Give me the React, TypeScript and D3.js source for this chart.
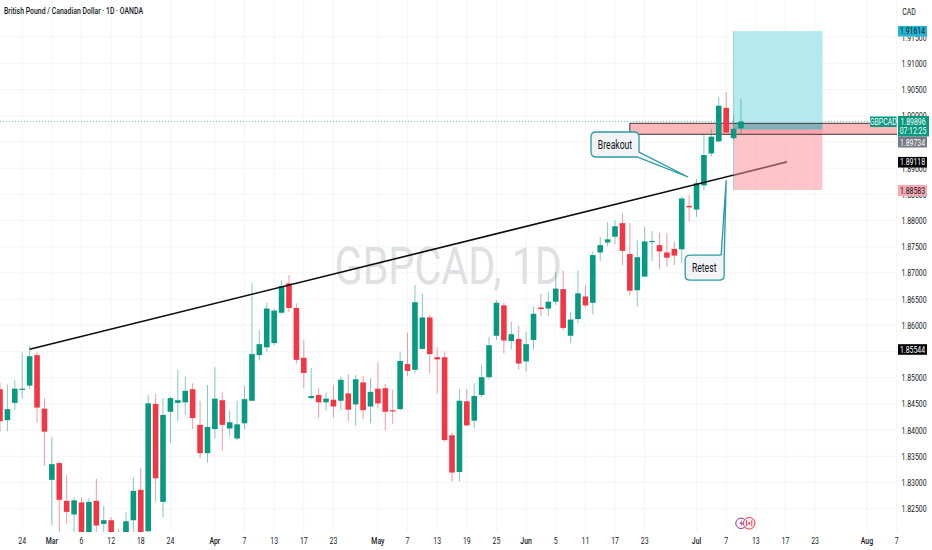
import React from "react";
import * as d3 from "d3";

const opens = [1.8478,1.8419,1.8452,1.8477,1.8485,1.8543,1.8441,1.8305,1.8337,1.8265,1.8239,1.8262,1.8178,1.8265,1.8221,1.8228,1.8197,1.8184,1.8228,1.8286,1.8207,1.8450,1.8263,1.8435,1.8452,1.8453,1.8478,1.8410,1.8356,1.8402,1.8457,1.8403,1.8384,1.8413,1.8456,1.8543,1.8558,1.8566,1.8624,1.8680,1.8633,1.8538,1.8461,1.8467,1.8453,1.8458,1.8456,1.8470,1.8449,1.8491,1.8445,1.8479,1.8480,1.8438,1.8440,1.8526,1.8515,1.8555,1.8615,1.8539,1.8539,1.8390,1.8320,1.8455,1.8418,1.8467,1.8501,1.8580,1.8638,1.8570,1.8574,1.8531,1.8572,1.8634,1.8632,1.8645,1.8669,1.8580,1.8612,1.8655,1.8643,1.8739,1.8758,1.8769,1.8795,1.8736,1.8667,1.8693,1.8760,1.8753,1.8739,1.8746,1.8745,1.8828,1.8821,1.8867,1.8928,1.8951,1.9015,1.8957,1.8976];
const highs = [1.8490,1.8487,1.8496,1.8548,1.8560,1.8548,1.8461,1.8386,1.8340,1.8314,1.8272,1.8271,1.8270,1.8307,1.8255,1.8234,1.8211,1.8243,1.8310,1.8327,1.8467,1.8469,1.8461,1.8464,1.8515,1.8502,1.8489,1.8456,1.8486,1.8520,1.8472,1.8438,1.8456,1.8484,1.8680,1.8591,1.8643,1.8632,1.8686,1.8696,1.8642,1.8571,1.8519,1.8480,1.8472,1.8486,1.8502,1.8507,1.8505,1.8503,1.8499,1.8529,1.8488,1.8477,1.8550,1.8586,1.8677,1.8660,1.8620,1.8558,1.8550,1.8395,1.8478,1.8478,1.8489,1.8524,1.8578,1.8648,1.8643,1.8607,1.8599,1.8587,1.8636,1.8660,1.8663,1.8702,1.8704,1.8625,1.8704,1.8677,1.8741,1.8769,1.8797,1.8801,1.8814,1.8795,1.8763,1.8788,1.8780,1.8777,1.8776,1.8760,1.8846,1.8849,1.8879,1.8963,1.8974,1.9036,1.9045,1.9001,1.9032];
const lows = [1.8397,1.8398,1.8438,1.8461,1.8478,1.8414,1.8332,1.8219,1.8184,1.8221,1.8184,1.8168,1.8168,1.8184,1.8190,1.8178,1.8178,1.8178,1.8190,1.8171,1.8193,1.8263,1.8233,1.8375,1.8416,1.8429,1.8402,1.8346,1.8338,1.8384,1.8361,1.8388,1.8381,1.8401,1.8456,1.8533,1.8550,1.8562,1.8621,1.8626,1.8527,1.8480,1.8459,1.8423,1.8437,1.8424,1.8438,1.8416,1.8409,1.8421,1.8413,1.8442,1.8400,1.8412,1.8438,1.8503,1.8508,1.8554,1.8508,1.8470,1.8378,1.8302,1.8302,1.8408,1.8403,1.8463,1.8497,1.8572,1.8547,1.8554,1.8515,1.8512,1.8553,1.8617,1.8617,1.8639,1.8590,1.8566,1.8604,1.8634,1.8621,1.8723,1.8751,1.8755,1.8715,1.8657,1.8636,1.8692,1.8723,1.8707,1.8711,1.8715,1.8718,1.8798,1.8807,1.8857,1.8922,1.8949,1.8963,1.8954,1.8966];
const closes = [1.8417,1.8440,1.8479,1.8479,1.8541,1.8443,1.8397,1.8335,1.8267,1.8244,1.8266,1.8178,1.8263,1.8218,1.8228,1.8184,1.8184,1.8226,1.8284,1.8178,1.8451,1.8308,1.8429,1.8461,1.8457,1.8475,1.8423,1.8356,1.8406,1.8460,1.8410,1.8415,1.8411,1.8459,1.8545,1.8564,1.8632,1.8628,1.8675,1.8633,1.8534,1.8509,1.8465,1.8453,1.8460,1.8445,1.8496,1.8439,1.8497,1.8438,1.8473,1.8451,1.8435,1.8437,1.8532,1.8513,1.8644,1.8615,1.8545,1.8535,1.8381,1.8319,1.8456,1.8409,1.8465,1.8501,1.8562,1.8643,1.8571,1.8583,1.8527,1.8564,1.8622,1.8631,1.8645,1.8670,1.8595,1.8611,1.8661,1.8638,1.8734,1.8753,1.8764,1.8789,1.8742,1.8666,1.8730,1.8760,1.8761,1.8741,1.8729,1.8733,1.8842,1.8825,1.8871,1.8925,1.8960,1.9019,1.8968,1.8975,1.8989];

const priceTicks = [1.825,1.83,1.835,1.84,1.845,1.85,1.855,1.86,1.865,1.87,1.875,1.88,1.885,1.89,1.895,1.9,1.905,1.91,1.915];
const hiddenPriceLabels = [1.855, 1.895];
const timeIdx = [3,7,11,15,19,23,29,33,37,41,45,51,55,59,63,67,71,75,79,83,87,94,98,102,106,110,117,121];
const timeLbl = ["24","Mar","6","12","18","24","Apr","7","13","17","23","May","7","13","19","25","Jun","5","11","17","23","Jul","7","13","17","23","Aug","7"];

const trendIdx = [4, 106.2];
const trendPrice = [1.85544, 1.89118];
const zoneStartIdx = 85;
const zonePrices = [1.89855, 1.89645];
const boxIdx = [99, 111];
const boxPrices = [1.91614, 1.89734, 1.88583];
const breakoutTip = [92.85, 1.8883];
const retestTip = [98, 1.8877];

const GREEN = "#089981";
const RED = "#f23645";
const FONT = "Roboto, 'Noto Sans', sans-serif";
const SQ = 0.72;

const T = ({ x, y, s = 9.6, fill = "#131722", anchor = "middle", weight = 400, children }: any) => (
  <text transform={`translate(${x},${y}) scale(${SQ},1)`} fontSize={s} fill={fill} textAnchor={anchor} fontWeight={weight} fontFamily={FONT}>
    {children}
  </text>
);

export default function App() {
  const x = d3.scaleLinear().domain([0, 100]).range([0, 741]);
  const y = d3.scaleLinear().domain([1.91, 1.83]).range([63.3, 482.5]);
  const W = 932, H = 550, axisX = 897, bottom = 532;
  const bw = 5.6;
  const last = closes[closes.length - 1];
  const line = d3.line<number>().x((_, i) => x(trendIdx[i])).y((p) => y(p));
  const bTip = [x(breakoutTip[0]), y(breakoutTip[1])];
  const rTip = [x(retestTip[0]), y(retestTip[1])];
  const calloutStroke = "#2b9aa6";
  const iconY = 523.3;
  const bx0 = x(boxIdx[0]);
  const bw2 = x(boxIdx[1]) - bx0;

  return (
    <svg width={W} height={H} viewBox={`0 0 ${W} ${H}`} style={{ position: "absolute", left: 0, top: 0, background: "#fff" }}>
      <defs>
        <clipPath id="plot"><rect x={0} y={0} width={axisX} height={bottom} /></clipPath>
        <clipPath id="preBox"><rect x={0} y={0} width={bx0} height={bottom} /></clipPath>
        <clipPath id="postBox"><rect x={bx0} y={0} width={axisX - bx0} height={bottom} /></clipPath>
      </defs>
      <g stroke="#f4f5f7" strokeWidth={1}>
        {priceTicks.map((p) => <line key={p} x1={0} x2={axisX} y1={y(p)} y2={y(p)} />)}
        {timeIdx.map((i) => <line key={i} x1={x(i)} x2={x(i)} y1={0} y2={bottom} />)}
      </g>
      <text transform={`translate(334.5,283.5) scale(0.81,1)`} fontSize={51} fill="#dfe0e2" fontFamily={FONT}>GBPCAD, 1D</text>

      <g clipPath="url(#plot)">
        <line x1={0} x2={axisX} y1={y(last)} y2={y(last)} stroke={GREEN} strokeOpacity={0.7} strokeWidth={0.8} strokeDasharray="1 2" />
        <path d={line(trendPrice) as string} stroke="#0b0b0b" strokeWidth={1.7} fill="none" clipPath="url(#postBox)" />
        <rect x={x(zoneStartIdx)} width={axisX - x(zoneStartIdx) + 3} y={y(zonePrices[0])} height={y(zonePrices[1]) - y(zonePrices[0])} fill="#fbb7ba" />
        <rect x={bx0} width={bw2} y={y(boxPrices[0])} height={y(boxPrices[1]) - y(boxPrices[0])} fill="#b6e8ef" />
        <rect x={bx0} width={bw2} y={y(zonePrices[0])} height={y(boxPrices[1]) - y(zonePrices[0])} fill="#84aeb8" />
        <rect x={bx0} width={bw2} y={y(boxPrices[1])} height={y(boxPrices[2]) - y(boxPrices[1])} fill="rgb(251,150,156)" fillOpacity={0.55} />
        <line x1={bx0} x2={bx0} y1={y(boxPrices[0])} y2={y(boxPrices[2])} stroke="#5fb8bd" strokeOpacity={0.7} strokeWidth={0.8} />
        <path d={`M${axisX} ${y(zonePrices[0])}H${x(zoneStartIdx)}V${y(zonePrices[1])}H${axisX}`} stroke="#3a3a3a" strokeWidth={1} fill="none" />
        {opens.map((o, i) => {
          const c = closes[i];
          const col = c >= o ? GREEN : RED;
          const top = y(Math.max(o, c));
          const h = Math.max(1.2, y(Math.min(o, c)) - top);
          return (
            <g key={i}>
              <line x1={x(i)} x2={x(i)} y1={y(highs[i])} y2={y(lows[i])} stroke={col} strokeOpacity={0.5} strokeWidth={1} />
              <rect x={x(i) - bw / 2} y={top} width={bw} height={h} fill={col} />
            </g>
          );
        })}
      </g>
      <path d={line(trendPrice) as string} stroke="#0b0b0b" strokeWidth={1.6} fill="none" clipPath="url(#preBox)" />

      {/* callouts */}
      <path
        d={`M${bTip[0] - 92} ${bTip[1] - 45} h38 q5 0 5 5 v15 l49 25 l-51 -20 h-41 q-5 0 -5 -5 v-15 q0 -5 5 -5 z`}
        fill="#f1f3f4" stroke={calloutStroke} strokeWidth={1.3}
      />
      <T x={bTip[0] - 73} y={bTip[1] - 28.5} s={12}>Breakout</T>
      <path
        d={`M${rTip[0] - 36} ${rTip[1] + 75} h29 l2 -0.5 l5 -74.5 l-2 78 v17 q0 5 -5 5 h-29 q-5 0 -5 -5 v-15 q0 -5 5 -5 z`}
        fill="#f1f3f4" stroke={calloutStroke} strokeWidth={1.3}
      />
      <T x={rTip[0] - 22} y={rTip[1] + 91.5} s={12}>Retest</T>

      {/* axes */}
      <g>
        {priceTicks.filter((p) => !hiddenPriceLabels.includes(p)).map((p) => <T key={p} x={914} y={y(p) + 3.4}>{p.toFixed(5)}</T>)}
        {timeIdx.map((i, k) => <T key={i} x={x(i)} y={544} weight={timeLbl[k].length === 3 ? 500 : 400}>{timeLbl[k]}</T>)}
        <T x={909} y={15}>CAD</T>
      </g>
      <T x={4} y={14} anchor="start" s={9.6} weight={500}>British Pound / Canadian Dollar · 1D · OANDA</T>

      {/* price labels */}
      <rect x={898} y={y(boxPrices[0]) - 5.2} width={29} height={10.6} fill="#22b5d4" />
      <T x={912.5} y={y(boxPrices[0]) + 3.2}>{boxPrices[0].toFixed(5)}</T>
      <rect x={870} y={116.5} width={26.5} height={10.5} fill={GREEN} />
      <T x={883.3} y={125} fill="#fff">GBPCAD</T>
      <rect x={898} y={116} width={31} height={20.5} fill={GREEN} />
      <T x={913} y={125} fill="#fff">1.89896</T>
      <T x={913} y={134} fill="#fff">07:12:25</T>
      <rect x={898} y={136.5} width={29} height={11} fill="#787b86" />
      <T x={912.5} y={145.5} fill="#fff">{boxPrices[1].toFixed(5)}</T>
      <rect x={898} y={y(trendPrice[1]) - 5} width={29} height={10.6} fill="#000" />
      <T x={912.5} y={y(trendPrice[1]) + 3.4} fill="#fff">{trendPrice[1].toFixed(5)}</T>
      <rect x={898} y={y(boxPrices[2]) - 5} width={29} height={11} fill="#f7a8b0" />
      <T x={912.5} y={y(boxPrices[2]) + 3.6}>{boxPrices[2].toFixed(5)}</T>
      <rect x={898} y={y(trendPrice[0]) - 5} width={29} height={10.6} fill="#000" />
      <T x={912.5} y={y(trendPrice[0]) + 3.4} fill="#fff">{trendPrice[0].toFixed(5)}</T>

      {/* event icons */}
      <circle cx={x(100)} cy={iconY} r={5.2} fill="#fff" stroke="#9c27b0" strokeWidth={1} />
      <path d={`M${x(100) + 1} ${iconY - 3.5} l-2.5 4 h2 l-1 3 l2.8 -4 h-2 z`} fill="#9c27b0" />
      <circle cx={x(100) + 8.2} cy={iconY} r={5.8} fill="#fdeff0" stroke={RED} strokeWidth={1} />
      <path d={`M${x(100) + 5.6} ${iconY - 3}v6M${x(100) + 10.8} ${iconY - 3}v6M${x(100) + 7.2} ${iconY}h2M${x(100) + 8.2} ${iconY - 1.5}v3`} stroke={RED} strokeWidth={1} fill="none" />
    </svg>
  );
}
